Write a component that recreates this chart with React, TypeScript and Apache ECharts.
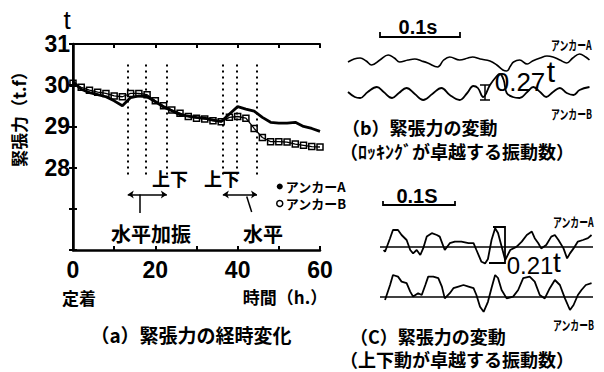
import React, { useEffect, useRef } from "react";
import * as echarts from "echarts";

// (a) tension over time (hours, t)
const hours = [0, 2, 4, 6, 8, 10, 12, 14, 16, 18, 20, 22, 24, 26, 28, 30, 32, 34, 36, 38, 40, 42, 44, 46, 48, 50, 52, 54, 56, 58, 60];
const anchorA = [30.08, 29.9, 29.82, 29.77, 29.72, 29.62, 29.5, 29.7, 29.74, 29.72, 29.6, 29.47, 29.38, 29.28, 29.25, 29.22, 29.2, 29.15, 29.12, 29.3, 29.48, 29.42, 29.37, 29.22, 29.1, 29.08, 29.08, 29.1, 29.0, 28.95, 28.88];
const anchorB = [30.05, 29.95, 29.88, 29.83, 29.8, 29.74, 29.72, 29.8, 29.8, 29.77, 29.62, 29.5, 29.4, 29.32, 29.24, 29.2, 29.18, 29.14, 29.11, 29.22, 29.24, 29.2, 28.95, 28.73, 28.63, 28.63, 28.62, 28.57, 28.54, 28.51, 28.5];
const yTickLabels = [28, 29, 30, 31];
const xTickLabels = [0, 20, 40, 60];
const excitationLines = [13.3, 17.7, 22.8, 36.4, 39.8, 44.7];
const dottedRange = [30.5, 27.82];
const arrowSpans = [[13.3, 22.8], [36.4, 44.7]];
const arrowLevel = 27.35;
const pointerLines = [[[16.3, 27.35], [16.3, 26.9]], [[42.2, 27.3], [43.4, 26.92]]];

// (b) rocking-dominant fluctuation (ms, t deviation)
const bTimeA = [0, 8, 16, 24, 31, 42, 53, 61, 68, 79, 88, 97, 105, 118, 126, 134, 147, 158, 164, 174, 187, 196, 204, 209, 214, 218, 226, 236, 243, 253, 262, 270, 279, 288, 296, 305, 313, 318];
const bValA = [-0.01, 0.02, 0.03, 0.0, -0.04, 0.01, 0.06, 0.03, -0.01, 0.01, 0.02, 0.0, -0.02, -0.06, 0.01, 0.04, 0.01, 0.03, 0.04, 0.02, 0.0, -0.04, -0.09, -0.1, -0.05, -0.01, 0.01, -0.03, 0.0, 0.03, 0.05, 0.04, 0.01, -0.02, 0.03, 0.07, 0.04, 0.01];
const bTimeB = [0, 9, 16, 26, 38, 47, 58, 67, 77, 88, 99, 111, 123, 134, 147, 157, 165, 171, 178, 187, 196, 200, 205, 209, 217, 226, 236, 244, 253, 261, 270, 279, 288, 297, 305, 318];
const bValB = [0.0, -0.05, -0.06, 0.0, 0.05, 0.0, -0.06, -0.01, 0.04, -0.02, -0.08, -0.02, 0.04, -0.03, -0.08, -0.01, 0.06, 0.04, -0.05, 0.07, 0.16, 0.18, 0.12, -0.01, -0.05, -0.06, 0.0, 0.05, 0.0, -0.05, 0.0, 0.04, -0.01, -0.03, 0.02, 0.05];

// (c) heave-dominant fluctuation (ms, t deviation)
const cTimeA = [5, 7, 14, 18, 25, 30, 37, 42, 46, 51, 56, 60, 65, 72, 79, 83, 90, 97, 104, 113, 123, 130, 134, 141, 146, 150, 155, 160, 164, 169, 174, 181, 190, 197, 204, 211, 215, 220, 224, 231, 238, 243, 248, 255, 260, 264, 269, 275, 282, 289, 294];
const cValA = [-0.015, -0.024, 0.044, 0.085, 0.085, 0.06, 0.035, -0.015, -0.032, -0.015, -0.04, -0.007, 0.052, 0.069, 0.06, 0.052, -0.015, 0.019, 0.027, 0.027, 0.019, 0.019, -0.015, -0.074, -0.082, -0.06, 0.035, 0.094, 0.07, 0.002, -0.065, -0.015, 0.002, 0.027, 0.06, 0.077, 0.044, 0.019, -0.007, 0.01, 0.052, 0.06, 0.035, -0.007, -0.057, -0.032, -0.007, 0.027, 0.035, 0.044, 0.06];
const cTimeB = [7, 14, 18, 25, 30, 37, 42, 46, 53, 58, 63, 67, 74, 81, 86, 90, 97, 102, 109, 116, 123, 130, 134, 139, 144, 150, 155, 160, 164, 169, 176, 185, 192, 199, 208, 215, 222, 229, 236, 243, 250, 257, 264, 269, 275, 280, 286, 294];
const cValB = [-0.015, 0.06, 0.11, 0.102, 0.077, 0.069, 0.027, 0.002, 0.019, 0.01, 0.06, 0.102, 0.102, 0.094, 0.052, -0.007, 0.019, 0.044, 0.052, 0.06, 0.052, 0.044, 0.01, -0.049, -0.074, -0.024, 0.045, 0.11, 0.095, 0.035, -0.007, 0.002, 0.035, 0.094, 0.102, 0.077, 0.01, -0.007, 0.044, 0.085, 0.06, -0.007, -0.065, -0.04, 0.01, 0.035, 0.06, 0.069];

const JP = '"Noto Sans CJK JP", sans-serif';
const NUM = '"Liberation Sans", Arial, sans-serif';

const zip = (xs: number[], ys: number[]) => xs.map((x, i) => [x, ys[i]]);

function txt(text: string, x: number, y: number, size: number, o: any = {}) {
  return {
    type: "text",
    x,
    y,
    rotation: o.rotation || 0,
    scaleX: o.scaleX || 1,
    silent: true,
    style: {
      text,
      fill: "#000",
      fontSize: size,
      fontWeight: o.weight || "bold",
      fontFamily: o.family || JP,
      align: o.align || "center",
      verticalAlign: "middle",
    },
  };
}

function pl(points: number[][], w = 1.5) {
  return { type: "polyline", silent: true, shape: { points }, style: { stroke: "#000", lineWidth: w, fill: "none" } };
}

const hiddenAxis = (grid: number, min: number, max: number) => ({
  type: "value",
  gridIndex: grid,
  min,
  max,
  show: false,
});

export default function App() {
  const ref = useRef<HTMLDivElement>(null);
  useEffect(() => {
    document.body.style.margin = "0";
    const chart = echarts.init(ref.current!, null, { renderer: "svg" });
    const black = "#000";
    const option: any = {
      animation: false,
      backgroundColor: "#fff",
      grid: [
        { left: 73, top: 44, width: 247, height: 206 },
        { left: 348, top: 41, width: 243, height: 40 },
        { left: 348, top: 72, width: 243, height: 40 },
        { left: 380, top: 217, width: 213, height: 60 },
        { left: 380, top: 267, width: 213, height: 60 },
      ],
      xAxis: [
        {
          type: "value", gridIndex: 0, min: 0, max: 60, interval: 10, position: "bottom",
          axisLine: { lineStyle: { color: black, width: 2.5 } },
          axisTick: { inside: true, length: 4, lineStyle: { color: black, width: 2 } },
          splitLine: { show: false },
          axisLabel: {
            color: black, fontSize: 23, fontWeight: "bold", fontFamily: NUM, margin: 8,
            formatter: (v: number) => (xTickLabels.includes(v) ? String(v) : ""),
          },
        },
        {
          type: "value", gridIndex: 0, min: 0, max: 60, interval: 10, position: "top",
          axisLine: { lineStyle: { color: black, width: 2 } },
          axisTick: { inside: true, length: 4, lineStyle: { color: black, width: 2 } },
          splitLine: { show: false },
          axisLabel: { show: false },
        },
        hiddenAxis(1, 0, 320),
        hiddenAxis(2, 0, 320),
        hiddenAxis(3, 0, 296),
        hiddenAxis(4, 0, 296),
      ],
      yAxis: [
        {
          type: "value", gridIndex: 0, min: 26, max: 31, interval: 1, position: "left",
          axisLine: { show: true, lineStyle: { color: black, width: 2.5 } },
          axisTick: { show: true, inside: true, length: 4, lineStyle: { color: black, width: 2 } },
          splitLine: { show: false },
          axisLabel: {
            color: black, fontSize: 23, fontWeight: "bold", fontFamily: NUM, margin: 3,
            formatter: (v: number) => (yTickLabels.includes(v) ? String(v) : ""),
          },
        },
        {
          type: "value", gridIndex: 0, min: 26, max: 31, interval: 1, position: "right",
          axisLine: { show: true, lineStyle: { color: black, width: 2 } },
          axisTick: { show: true, inside: true, length: 4, lineStyle: { color: black, width: 2 } },
          splitLine: { show: false },
          axisLabel: { show: false },
        },
        hiddenAxis(1, -0.2, 0.2),
        hiddenAxis(2, -0.2, 0.2),
        hiddenAxis(3, -0.15, 0.15),
        hiddenAxis(4, -0.15, 0.15),
      ],
      legend: {
        orient: "vertical",
        left: 276,
        top: 180,
        padding: 0,
        itemGap: 4,
        itemWidth: 6,
        itemHeight: 6,
        selectedMode: false,
        textStyle: { color: black, fontSize: 13, fontWeight: "bold", fontFamily: JP, padding: [0, 0, 0, -2] },
        data: [
          { name: "アンカーA", icon: "circle", itemStyle: { color: black } },
          { name: "アンカーB", icon: "circle", itemStyle: { color: "#fff", borderColor: black, borderWidth: 1.5 } },
        ],
      },
      series: [
        {
          name: "アンカーA", type: "line", xAxisIndex: 0, yAxisIndex: 0, z: 4,
          data: zip(hours, anchorA), showSymbol: false,
          color: black, lineStyle: { color: black, width: 2.8 },
          markLine: {
            silent: true, symbol: ["none", "none"], label: { show: false },
            lineStyle: { color: black, width: 2, type: [2, 4] },
            data: excitationLines.map((h) => [{ coord: [h, dottedRange[0]] }, { coord: [h, dottedRange[1]] }]),
          },
        },
        {
          name: "アンカーB", type: "line", xAxisIndex: 0, yAxisIndex: 0, z: 3,
          data: zip(hours, anchorB), symbol: "rect", symbolSize: 6, showSymbol: true,
          color: black, itemStyle: { color: "rgba(255,255,255,0)", borderColor: black, borderWidth: 1.5 },
          lineStyle: { color: black, width: 1.3 },
          markLine: {
            silent: true, label: { show: false }, symbolSize: 6,
            lineStyle: { color: black, width: 1.5, type: "solid" },
            data: [
              ...arrowSpans.map((s) => [
                { coord: [s[0], arrowLevel], symbol: "arrow" },
                { coord: [s[1], arrowLevel], symbol: "arrow" },
              ]),
              ...pointerLines.map((p) => [
                { coord: p[0], symbol: "none" },
                { coord: p[1], symbol: "none" },
              ]),
            ],
          },
        },
        {
          name: "b-A", type: "line", xAxisIndex: 2, yAxisIndex: 2, data: zip(bTimeA, bValA),
          showSymbol: false, smooth: 0.4, lineStyle: { color: black, width: 1.6 }, color: black,
        },
        {
          name: "b-B", type: "line", xAxisIndex: 3, yAxisIndex: 3, data: zip(bTimeB, bValB),
          showSymbol: false, smooth: 0.4, lineStyle: { color: black, width: 1.8 }, color: black,
        },
        {
          name: "c-A", type: "line", xAxisIndex: 4, yAxisIndex: 4, data: zip(cTimeA, cValA),
          showSymbol: false, lineStyle: { color: black, width: 1.8 }, color: black,
          markLine: { silent: true, symbol: ["none", "none"], label: { show: false }, lineStyle: { color: black, width: 1.5, type: "solid" }, data: [{ yAxis: 0 }] },
        },
        {
          name: "c-B", type: "line", xAxisIndex: 5, yAxisIndex: 5, data: zip(cTimeB, cValB),
          showSymbol: false, lineStyle: { color: black, width: 1.8 }, color: black,
          markLine: { silent: true, symbol: ["none", "none"], label: { show: false }, lineStyle: { color: black, width: 1.5, type: "solid" }, data: [{ yAxis: 0 }] },
        },
      ],
      graphic: [
        // (a)
        txt("緊張力（t.f）", 18, 115, 17, { rotation: Math.PI / 2 }),
        txt("t", 67, 20, 26, { weight: "normal", family: NUM }),
        txt("上下", 170, 178, 18),
        txt("上下", 222, 178, 18),
        txt("水平加振", 151, 233, 20),
        txt("水平", 263, 233, 20),
        txt("定着", 79, 297, 17),
        txt("時間（h.）", 285, 296, 17),
        txt("（a）緊張力の経時変化", 191, 334, 19),
        // (b)
        txt("0.1s", 418, 27, 20, { family: NUM }),
        pl([[380, 32], [380, 37], [460, 37], [460, 32]], 1.8),
        txt("アンカーA", 551, 44, 13, { align: "left", scaleX: 0.68 }),
        txt("アンカーB", 551, 113, 13, { align: "left", scaleX: 0.68 }),
        txt("0.27", 520, 82, 26, { weight: "normal", family: NUM }),
        txt("t", 551, 71, 30, { weight: "normal", family: NUM }),
        pl([[485, 85], [485, 100]], 1.5),
        pl([[480, 85], [490, 85]], 1.5),
        pl([[480, 100], [490, 100]], 1.5),
        txt("（b）緊張力の変動", 342, 127, 18, { align: "left" }),
        txt("（ﾛｯｷﾝｸﾞが卓越する振動数）", 340, 151, 18, { align: "left" }),
        // (c)
        txt("0.1S", 417, 196, 20, { family: NUM }),
        pl([[383, 201], [383, 205], [455, 205], [455, 201]], 1.8),
        txt("アンカーA", 553, 221, 13, { align: "left", scaleX: 0.68 }),
        txt("アンカーB", 553, 324, 13, { align: "left", scaleX: 0.68 }),
        pl([[493, 227], [505, 227], [505, 263], [489, 263]], 1.8),
        txt("0.21", 530, 265, 24, { weight: "normal", family: NUM }),
        txt("t", 557, 262, 28, { weight: "normal", family: NUM }),
        txt("（C）緊張力の変動", 350, 336, 18, { align: "left" }),
        txt("（上下動が卓越する振動数）", 340, 359, 18, { align: "left" }),
      ],
    };
    chart.setOption(option);
    return () => chart.dispose();
  }, []);
  return <div ref={ref} style={{ width: 604, height: 372 }} />;
}
